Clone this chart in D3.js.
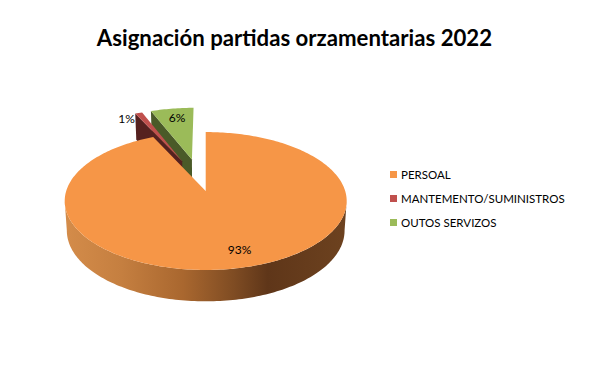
<!DOCTYPE html>
<html><head><meta charset="utf-8">
<script src="https://cdn.jsdelivr.net/npm/d3@7"></script>
<style>html,body{margin:0;padding:0;background:#fff}svg{display:block}text{font-family:Lato,"Open Sans",sans-serif;fill:#000}</style>
</head><body><svg id="c" width="604" height="369"></svg>
<script>
const title = "Asignación partidas orzamentarias 2022";
const categories = ["PERSOAL","MANTEMENTO/SUMINISTROS","OUTOS SERVIZOS"];
const shares = [93,1,6];
const labels = ["93%","1%","6%"];
const topColors = ["#f69647","#c0504d","#9bbb59"];
const wallColors = ["#61371a","#55211f","#4a5a28"];
const explodeU = [0,-0.18,-0.106];
const explodeV = [0,0.47,0.5];
const labelPos = [[239.5,254],[126.5,123],[177,121.5]];
const legendY = [171,195,219];

const svg = d3.select("#c");
const cx=205.7, cy=191, Rx=139.5, Ry=67.5, k=0.145;
const xs=d3.scaleLinear().domain([-1,1]).range([cx-Rx,cx+Rx]);
const ys=d3.scaleLinear().domain([-1,1]).range([cy+Ry,cy-Ry]);
function proj(u,v,z){ // z 0 top,1 bottom
  const w=1+k*v;
  const shrink=z?0.985:1;
  const depth=z?(29.2-2.2*v):0;
  return [cx+(xs(u/w)-cx)*shrink, ys(v/w)+depth];
}
const pts=d3.pie().sort(null).value(d=>d)(shares);
const line=d3.line();
const gradient=svg.append("defs").append("linearGradient").attr("id","wall");
[[0,"#d48c4a"],[0.2,"#c57f40"],[0.42,"#a9672f"],[0.6,"#7f4c23"],[0.72,"#5f3619"],[1,"#6d421f"]]
 .forEach(s=>gradient.append("stop").attr("offset",s[0]).attr("stop-color",s[1]));

function arcPts(i,a0,a1,z){
  const n=Math.max(4,Math.ceil(Math.abs(a1-a0)/0.02));
  return d3.range(n+1).map(j=>{
    const t=a0+(a1-a0)*j/n;
    return proj(explodeU[i]+Math.sin(t),explodeV[i]+Math.cos(t),z);
  });
}
// back slices first: green, red, then orange
[2,1].forEach(i=>{
  const p=pts[i];
  const apex0=proj(explodeU[i],explodeV[i],0), apex1=proj(explodeU[i],explodeV[i],1);
  const e0=arcPts(i,p.startAngle,p.startAngle,0)[0], e1=arcPts(i,p.startAngle,p.startAngle,1)[0];
  svg.append("path").attr("d",line([e0,e1,apex1,apex0])+"Z").attr("fill",wallColors[i]);
  svg.append("path").attr("d",line([apex0,...arcPts(i,p.startAngle,p.endAngle,0)])+"Z").attr("fill",topColors[i]);
});
const o=pts[0];
const ext=Math.acos(-k);
const front=arcPts(0,ext,2*Math.PI-ext,0), back=arcPts(0,2*Math.PI-ext,ext,1);
svg.append("path").attr("d",line([...front,...back])+"Z").attr("fill","url(#wall)");
svg.append("path").attr("d",line([[cx,cy],...arcPts(0,o.startAngle,o.endAngle,0)])+"Z").attr("fill",topColors[0]);

svg.append("text").attr("x",294.5).attr("y",46).attr("text-anchor","middle")
  .attr("font-size",22.2).attr("font-weight",700).text(title);
labels.forEach((t,i)=>svg.append("text").attr("x",labelPos[i][0]).attr("y",labelPos[i][1])
  .attr("text-anchor","middle").attr("font-size",12).text(t));
categories.forEach((c,i)=>{
  svg.append("rect").attr("x",390).attr("y",legendY[i]).attr("width",7).attr("height",7).attr("fill",topColors[i]);
  svg.append("text").attr("x",401).attr("y",legendY[i]+8).attr("font-size",11.5).text(c);
});
</script></body></html>
